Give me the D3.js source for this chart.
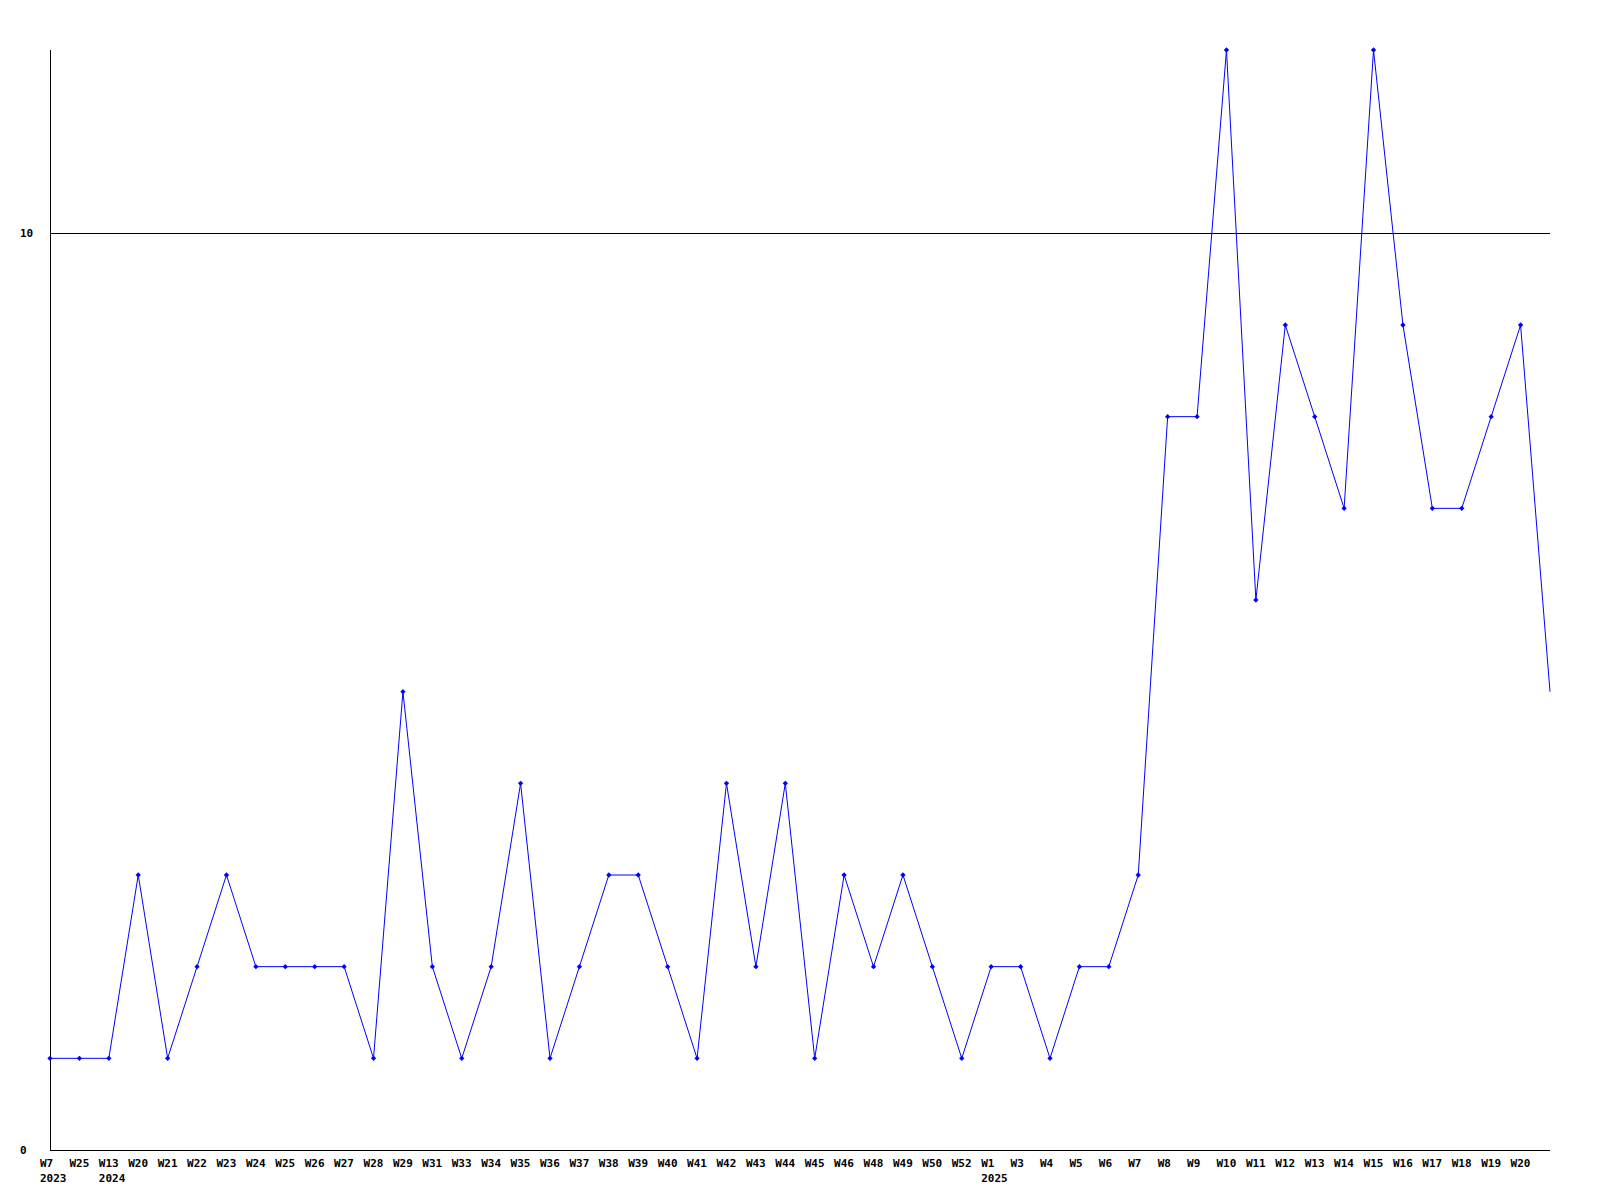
<!DOCTYPE html>
<html>
<head>
<meta charset="utf-8">
<script src="https://cdn.jsdelivr.net/npm/d3@7"></script>
<style>
  html, body { margin: 0; padding: 0; background: #fff; }
  svg text { font-family: "DejaVu Sans Mono", "Liberation Mono", monospace; font-weight: bold; font-size: 11px; fill: #000; }
</style>
</head>
<body>
<svg id="chart" width="1600" height="1200"></svg>
<script>
const weekLabels = ["W7","W25","W13","W20","W21","W22","W23","W24","W25","W26","W27","W28","W29","W31","W33","W34","W35","W36","W37","W38","W39","W40","W41","W42","W43","W44","W45","W46","W48","W49","W50","W52","W1","W3","W4","W5","W6","W7","W8","W9","W10","W11","W12","W13","W14","W15","W16","W17","W18","W19","W20",""];
const yearLabels = ["2023","","2024","","","","","","","","","","","","","","","","","","","","","","","","","","","","","","2025","","","","","","","","","","","","","","","","","","",""];
const values = [1,1,1,3,1,2,3,2,2,2,2,1,5,2,1,2,4,1,2,3,3,2,1,4,2,4,1,3,2,3,2,1,2,2,1,2,2,3,8,8,12,6,9,8,7,12,9,7,7,8,9,5];
const yTicks = [0, 10];
const yMax = 12;

(function () {
const svg = d3.select("#chart");
const mLeft = 50, mRight = 1550, mTop = 50, mBottom = 1150;

const x = d3.scaleLinear().domain([0, values.length - 1]).range([mLeft, mRight]);
const y = d3.scaleLinear().domain([0, yMax]).range([mBottom, mTop]);

// axes
svg.append("line").attr("x1", mLeft + 0.5).attr("x2", mLeft + 0.5).attr("y1", mTop).attr("y2", mBottom)
  .attr("stroke", "#000").attr("stroke-width", 1);
svg.append("line").attr("x1", mLeft).attr("x2", mRight).attr("y1", mBottom + 0.5).attr("y2", mBottom + 0.5)
  .attr("stroke", "#000").attr("stroke-width", 1);

// gridline at 10
yTicks.filter(t => t !== 0).forEach(t => {
  svg.append("line").attr("x1", mLeft).attr("x2", mRight)
    .attr("y1", Math.round(y(t)) + 0.5).attr("y2", Math.round(y(t)) + 0.5)
    .attr("stroke", "#000").attr("stroke-width", 1);
});

// y labels
svg.selectAll(".ylab").data(yTicks).enter().append("text")
  .attr("class", "ylab")
  .attr("x", 20)
  .attr("y", d => y(d) + 4)
  .text(d => d);

// x labels
svg.selectAll(".xlab").data(weekLabels).enter().append("text")
  .attr("class", "xlab")
  .attr("x", (d, i) => x(i) - 10)
  .attr("y", 1167)
  .text(d => d);
svg.selectAll(".yearlab").data(yearLabels).enter().append("text")
  .attr("class", "yearlab")
  .attr("x", (d, i) => x(i) - 10)
  .attr("y", 1182)
  .text(d => d);

// line
const line = d3.line().x((d, i) => x(i)).y(d => y(d));
svg.append("path").datum(values)
  .attr("d", line)
  .attr("fill", "none")
  .attr("stroke", "#0000ff")
  .attr("stroke-width", 1);

// markers (all but last)
const diamond = d3.symbol().type(d3.symbolDiamond2 || d3.symbolDiamond).size(18);
svg.selectAll(".pt").data(values.slice(0, values.length - 1)).enter().append("path")
  .attr("class", "pt")
  .attr("d", diamond)
  .attr("transform", (d, i) => `translate(${x(i)},${y(d)})`)
  .attr("fill", "#0000ff");
})();
</script>
</body>
</html>
